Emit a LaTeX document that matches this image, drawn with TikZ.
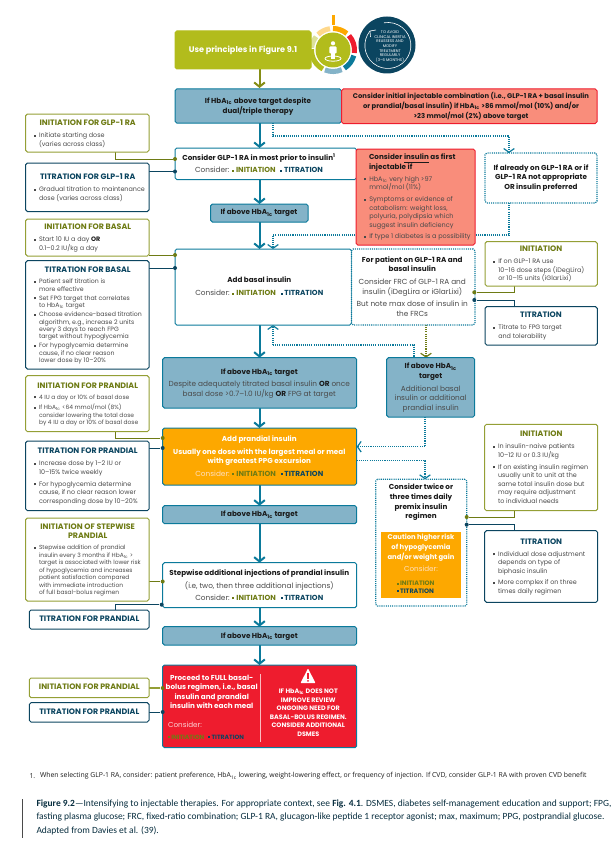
\documentclass[tikz,border=0pt]{standalone}
\usepackage{fontspec}
\setmainfont{Poppins}
\newfontfamily\capfont{Carlito}
\newfontfamily\notefont{Open Sans}
\usetikzlibrary{arrows.meta,calc}
\definecolor{bluefill}{HTML}{84B3C8}
\definecolor{teal}{HTML}{0B7A9B}
\definecolor{navy}{HTML}{0B4560}
\definecolor{olivetx}{HTML}{6E7B14}
\definecolor{olivebd}{HTML}{949F35}
\definecolor{limefill}{HTML}{B2BC1C}
\definecolor{salmon}{HTML}{F98D7B}
\definecolor{redbd}{HTML}{EE1C2E}
\definecolor{orangefill}{HTML}{FDA800}
\definecolor{bodytx}{HTML}{4A4A4A}
\definecolor{blacktx}{HTML}{1A1A1A}
\pgfdeclarelayer{bg}
\pgfsetlayers{bg,main}
\newcommand\fs[2]{\fontsize{#1pt}{#2pt}\selectfont}
\newcommand\hba{HbA\textsubscript{1c}}
\newcommand\bul{\makebox[0pt][r]{\raisebox{.6pt}{\rule{1.5pt}{1.5pt}}\hspace{2.6pt}}}
\newcommand\sq[1]{{\color{#1}\raisebox{.8pt}{\rule{1.5pt}{1.5pt}}}}
\newcommand\consl[3]{{\color{#1}Consider:} \sq{#2} {\bfseries\color{#2}INITIATION}\hspace{2pt} \sq{#3} {\bfseries\color{#3}TITRATION}}
% box: name, style, x1, y1, x2, y2
\newcommand\bx[6]{\node[#2,minimum width={(#5-(#3))*0.75pt},minimum height={(#6-(#4))*0.75pt}] (#1) at ({(#3+#5)/2},{(#4+#6)/2}) {};}
% text block: name, x, y of first line centre, style, text
\newcommand\tb[5]{\node[tx,#4] (#1) at (#2,{#3-4}) {\rule{0pt}{4.4pt}#5};}
\tikzset{
 x=0.75pt,y=-0.75pt,
 bbase/.style={inner sep=0,outer sep=0,rounded corners=1.3pt,line width=.75pt},
 bluebox/.style={bbase,draw=teal,fill=bluefill},
 whitebox/.style={bbase,draw=teal,fill=white},
 salmonbox/.style={bbase,draw=redbd,fill=salmon},
 orangebox/.style={bbase,draw=teal,fill=orangefill},
 limebox/.style={bbase,draw=limefill,fill=limefill},
 fullred/.style={bbase,draw=teal,fill=redbd},
 olivebox/.style={bbase,draw=olivebd,fill=white},
 navybox/.style={bbase,draw=navy,fill=white},
 dotbox/.style={bbase,draw=teal,fill=white,dash pattern=on .8pt off .8pt,line width=.85pt},
 tx/.style={inner sep=0,outer sep=0},
 tl/.style={anchor=north west,align=left},
 tc/.style={anchor=north,align=center},
 head/.style={tl,font=\fs{5.4}{7}\bfseries,text=blacktx},
 boldc/.style={tc,font=\fs{5.4}{7.2}\bfseries,text=blacktx},
 redc/.style={tc,font=\fs{5.1}{7.2}\bfseries,text=blacktx},
 plainc/.style={tc,font=\fs{5.5}{7.2},text=bodytx},
 whitec/.style={tc,font=\fs{5.4}{7.2}\bfseries,text=white},
 ctitle/.style={tc,font=\fs{5.9}{7.2}\bfseries},
 ol/.style={ctitle,text=olivetx},
 nv/.style={ctitle,text=navy},
 bodyA/.style={tl,font=\fs{4.8}{6.35},text=bodytx},
 bodyB/.style={tl,font=\fs{4.65}{5.6},text=bodytx},
 bodyC/.style={tl,font=\fs{4.45}{5.6},text=bodytx},
 flow/.style={draw=teal,line width=1.5pt,-{Straight Barb[length=3.2pt,width=8pt,line width=1.5pt]}},
 flowol/.style={draw=limefill!75!black,line width=1.5pt,-{Straight Barb[length=3.2pt,width=8pt,line width=1.5pt]}},
 dotflow/.style={draw=teal,line width=.85pt,dash pattern=on .8pt off .8pt,-{Straight Barb[length=2.8pt,width=8pt,line width=.9pt]}},
 dotol/.style={draw=olivetx,line width=.85pt,dash pattern=on .8pt off .8pt,-{Straight Barb[length=2.8pt,width=8pt,line width=.9pt]}},
 dotline/.style={draw=teal,line width=.85pt,dash pattern=on .8pt off .8pt},
 connol/.style={draw=olivetx,line width=.75pt},
 connnv/.style={draw=navy,line width=.75pt},
 jol/.style={circle,fill=olivetx,inner sep=0,minimum size=3pt},
 jnv/.style={circle,fill=navy,inner sep=0,minimum size=3pt},
}
\begin{document}
\begin{tikzpicture}
\useasboundingbox (0,0) rectangle (616,842);
% ---- icon ----
\begin{scope}[line width=3.8pt]
 \foreach \c/\a/\b in {limefill/118/182,limefill!45/186/218,orangefill!45/226/262,orangefill/270/310,redbd/318/368,teal/375/418,bluefill/426/472}{
  \draw[\c] (333,50) ++(\a:21.5) arc[start angle=\a,end angle=\b,radius=21.5];
 }
 \draw[orangefill,line width=2.6pt] (333.5,15) -- (333.5,25);
\end{scope}
\fill[limefill] (333,50) circle[radius=17.5];
\fill[white] (333,43.3) circle[radius=2.1];
\fill[white,rounded corners=.8pt] (329.4,46.4) rectangle (336.6,53.5);
\fill[white] (330.8,53) rectangle (335.2,59);
\draw[white,line width=.6pt] (333,58.6) ellipse[x radius=8,y radius=2.6];
\fill[navy] (387,45) circle[radius=28.5];
\draw[white,line width=.45pt] (370,31) arc[start angle=219,end angle=-100,radius=23];
\draw[white,line width=.45pt] (370,31) -- (376,30);
\draw[white,line width=.45pt] (370,31) -- (370.5,37);
\node[tx,tc,font=\fs{2.9}{3.45},text=white] (inert) at (390,31) {TO AVOID\\CLINICAL INERTIA\\REASSESS AND\\MODIFY\\TREATMENT\\REGULARLY\\(3--6 MONTHS)};
% ---- boxes ----
\bx{use}{limebox}{175}{31}{311}{69}
\bx{dual}{bluebox}{175}{89}{341.5}{123}
\bx{init}{salmonbox}{341.5}{89}{597}{123.5}
\bx{glp}{whitebox}{175}{148}{356.5}{179.5}
\bx{insul}{salmonbox}{356}{149}{475}{245}
\bx{already}{dotbox}{485}{153}{597}{203}
\bx{t1}{bluebox}{210.7}{204}{308}{222}
\bx{basal}{whitebox}{175}{249}{351.5}{325}
\bx{frc}{dotbox}{351.5}{249}{475}{325}
\bx{t2}{bluebox}{162.7}{357.7}{356.7}{408}
\bx{t2r}{bluebox}{386.7}{357.7}{474.7}{417}
\bx{pran}{orangebox}{162.7}{428}{356.7}{485}
\bx{t3}{bluebox}{162.7}{505.7}{356.7}{523.7}
\bx{step}{whitebox}{162.7}{562.7}{356.7}{607.7}
\bx{t4}{bluebox}{162.7}{626.7}{356.7}{645}
\bx{full}{fullred}{162.7}{665}{356.7}{747.7}
\bx{premix}{dotbox}{375.7}{479.3}{466.7}{606}
\node[inner sep=0,fill=orangefill,minimum width=60pt,minimum height=49.3pt] (caut) at (421,564.8) {};
\bx{ig}{olivebox}{25.7}{114}{149}{152}
\bx{tg}{navybox}{25.7}{163}{149}{211.6}
\bx{ib}{olivebox}{25.7}{219}{149}{256}
\bx{tb}{navybox}{25.7}{260.7}{149}{369}
\bx{ip}{olivebox}{25.7}{375.7}{149}{431.7}
\bx{tp}{navybox}{25.7}{441}{149}{510.7}
\bx{is}{olivebox}{25.7}{518}{149}{601}
\bx{tps}{navybox}{29.3}{610}{149}{629}
\bx{ipf}{olivebox}{29.3}{678}{149}{697.7}
\bx{tpf}{navybox}{29.3}{702.7}{149}{722}
\bx{ir1}{olivebox}{485}{241.7}{597.3}{286}
\bx{tr1}{navybox}{485}{306.7}{597.3}{345}
\bx{ir2}{olivebox}{484.7}{424.3}{597.7}{510.7}
\bx{tr2}{navybox}{484.7}{530.7}{597.7}{602.3}
% ---- junction dots ----
\node[jol] (d1) at (175,159) {};
\node[jnv] (d2) at (175,171.5) {};
\node[jol] (d3) at (175,255) {};
\node[jnv] (d4) at (175,268) {};
\node[jol] (d5) at (162.7,438) {};
\node[jnv] (d6) at (162.7,448) {};
\node[jol] (d7) at (162.7,581.5) {};
\node[jnv] (d8) at (161.7,604.7) {};
\node[jol] (d9) at (162.7,688) {};
\node[jnv] (d10) at (162.7,712) {};
\node[jol] (d11) at (474.3,292.3) {};
\node[jnv] (d12) at (474.3,300) {};
\node[jol] (d13) at (466.7,517) {};
\node[jnv] (d14) at (466.7,524.7) {};
% ---- connectors (behind boxes) ----
\coordinate (trunk) at (259.5,0);
\coordinate (xg) at (115,0);
\coordinate (xr) at (514,0);
\coordinate (xd) at (273,0);
\coordinate (xa) at (509,0);
\coordinate (xo) at (426,0);
\coordinate (xp) at (425,0);
\coordinate (y1) at (0,136);
\coordinate (y2) at (0,235);
\coordinate (y3) at (0,345);
\coordinate (y4) at (0,446.7);
\coordinate (y5) at (0,460.7);
\coordinate (xt) at (414,0);
\begin{pgfonlayer}{bg}
 \draw[flowol] (use.south -| trunk) -- ($(dual.north -| trunk)+(0,-1)$);
 \draw[flow] (dual.south -| trunk) -- (glp.north -| trunk);
 \draw[flow] (glp.south -| trunk) -- (t1.north -| trunk);
 \draw[flow] (t1.south -| trunk) -- (basal.north -| trunk);
 \draw[flow] (basal.south -| trunk) -- (t2.north -| trunk);
 \draw[flow] (t2.south -| trunk) -- (pran.north -| trunk);
 \draw[flow] (pran.south -| trunk) -- (t3.north -| trunk);
 \draw[flow] (t3.south -| trunk) -- (step.north -| trunk);
 \draw[flow] (step.south -| trunk) -- (t4.north -| trunk);
 \draw[flow] (t4.south -| trunk) -- (full.north -| trunk);
 \draw[dotflow] (dual.south -| xd) -- (xd |- y1) -- (xa |- y1) -- (already.north -| xa);
 \draw[dotflow] (already.south -| xa) -- (xa |- y2) -- (xd |- y2) -- (basal.north -| xd);
 \draw[dotflow] (xd |- y3) -- (basal.south -| xd);
 \draw[dotline] (xd |- y3) -- (xt |- y3) -- (t2r.north -| xt);
 \draw[dotol] (frc.south -| xo) -- (t2r.north -| xo);
 \draw[dotflow] (t2r.south -| xp) -- (xp |- y4) -- (pran.east |- y4);
 \draw[dotflow] (pran.east |- y5) -- (xp |- y5) -- (premix.north -| xp);
 \draw[connol] ($(ig.south -| xg)$) |- (d1);
 \draw[connnv] (tg.east |- d2) -- (d2);
 \draw[connol] (ib.east |- d3) -- (d3);
 \draw[connnv] (tb.east |- d4) -- (d4);
 \draw[connol] (ip.south -| xg) |- (d5);
 \draw[connnv] (tp.east |- d6) -- (d6);
 \draw[connol] (is.east |- d7) -- (d7);
 \draw[connnv] (tps.north -| xg) |- (d8);
 \draw[draw=olivebd,line width=1pt] (ipf.east |- d9) -- (d9);
 \draw[connnv] (tpf.east |- d10) -- (d10);
 \draw[connol] (ir1.south -| xr) |- (d11);
 \draw[connnv] (tr1.north -| xr) |- (d12);
 \draw[connol] (ir2.south -| xr) |- (d13);
 \draw[connnv] (tr2.north -| xr) |- (d14);
\end{pgfonlayer}
% ---- main texts ----
\tb{tuse}{243}{50}{tc,font=\fs{6.1}{7}\bfseries,text=white}{Use principles in Figure 9.1}
\tb{tdual}{258}{101.7}{boldc}{If \hba{} above target despite\\dual/triple therapy}
\tb{tinit}{471}{96.7}{redc}{Consider initial injectable combination (i.e., GLP-1 RA + basal insulin\\or prandial/basal insulin) if \hba{} >86 mmol/mol (10\%) and/or\\>23 mmol/mol (2\%) above target}
\tb{tglp}{259}{158.3}{boldc}{Consider GLP-1 RA in most prior to insulin\textsuperscript{1}}
\tb{tglpc}{259}{171}{plainc}{\consl{bodytx}{olivetx}{navy}}
\tb{tt1}{259}{213}{boldc}{If above \hba{} target}
\tb{tinsh}{369}{158}{head}{Consider \underline{insulin} as first\\injectable if}
\tb{tinsb1}{369.3}{179.3}{tl,font=\fs{4.9}{6.5},text=bodytx}{\bul\hba{} very high >97\\mmol/mol (11\%)}
\tb{tinsb2}{369.3}{199.7}{tl,font=\fs{4.9}{6.4},text=bodytx}{\bul Symptoms or evidence of\\catabolism: weight loss,\\polyuria, polydipsia which\\suggest insulin deficiency}
\tb{tinsb3}{369.3}{237}{tl,font=\fs{4.9}{6.4},text=bodytx}{\bul If type 1 diabetes is a possibility}
\tb{tal}{541}{168.3}{boldc}{If already on GLP-1 RA or if\\GLP-1 RA not appropriate\\OR insulin preferred}
\tb{tbas}{259.3}{281}{boldc}{Add basal insulin}
\tb{tbasc}{259.3}{293.7}{plainc}{\consl{bodytx}{olivetx}{navy}}
\tb{tfrc1}{412.3}{260.3}{boldc}{For patient on GLP-1 RA and\\basal insulin}
\tb{tfrc2}{412.3}{282.7}{plainc}{Consider FRC of GLP-1 RA and\\insulin (iDegLira or iGlarLixi)}
\tb{tfrc3}{412.3}{305}{plainc}{But note max dose of insulin in\\the FRCs}
\tb{tt2a}{259.3}{372.3}{boldc}{If above \hba{} target}
\tb{tt2b}{259.3}{385}{plainc}{Despite adequately titrated basal insulin {\bfseries\color{blacktx}OR} once\\basal dose >0.7--1.0 IU/kg {\bfseries\color{blacktx}OR} FPG at target}
\tb{tt2ra}{430.7}{367}{boldc}{If above \hba{}\\target}
\tb{tt2rb}{430.7}{389.3}{plainc}{Additional basal\\insulin or additional\\prandial insulin}
\tb{tpr1}{259.3}{439.7}{whitec}{Add prandial insulin}
\tb{tpr2}{259.3}{452.3}{whitec}{Usually one dose with the largest meal or meal\\with greatest PPG excursion}
\tb{tpr3}{259.3}{474.3}{plainc}{\consl{orange!25}{olivetx}{navy}}
\tb{tt3}{259.3}{515}{boldc}{If above \hba{} target}
\tb{tst1}{259.3}{573.3}{boldc}{Stepwise additional injections of prandial insulin}
\tb{tst2}{259.3}{585.7}{plainc}{(i.e, two, then three additional injections)}
\tb{tst3}{259.3}{598.3}{plainc}{\consl{bodytx}{olivetx}{navy}}
\tb{tt4}{259.3}{636.7}{boldc}{If above \hba{} target}
\tb{tfu1}{211.7}{678.3}{whitec}{Proceed to FULL basal-\\bolus regimen, i.e., basal\\insulin and prandial\\insulin with each meal}
\tb{tfu2}{168}{726}{tl,font=\fs{5.4}{7},text=white!80!redbd}{Consider:}
\tb{tfu3}{168}{737.3}{tl,font=\fs{4.6}{6}\bfseries}{\sq{olivetx} {\color{olivetx}INITIATION}\hspace{2pt} \sq{navy} {\color{navy}TITRATION}}
\draw[white!70!redbd,line width=.9pt] (260.7,674) -- (260.7,741.7);
\fill[white,rounded corners=.5pt] (308,668.5) -- (315.5,683) -- (300.5,683) -- cycle;
\fill[redbd] (307.2,673) rectangle (308.8,679);
\fill[redbd] (308,680.8) circle[radius=1];
\tb{tfu4}{308.3}{691.7}{tc,font=\fs{4.8}{6.45}\bfseries,text=white}{IF \hba{} DOES NOT\\IMPROVE REVIEW\\ONGOING NEED FOR\\BASAL-BOLUS REGIMEN.\\CONSIDER ADDITIONAL\\DSMES}
\tb{tpm}{421}{488}{boldc}{Consider twice or\\three times daily\\premix insulin\\regimen}
\tb{tcau}{421}{538}{tc,font=\fs{5.1}{7.2}\bfseries,text=white}{Caution higher risk\\of hypoglycemia\\and/or weight gain}
\tb{tcau2}{421}{570}{tc,font=\fs{5.4}{7},text=orange!25}{Consider:}
\tb{tcau3}{396.7}{583.7}{tl,font=\fs{4.8}{5.8}\bfseries}{\sq{olivetx} {\color{olivetx}INITIATION}\\\sq{navy} {\color{navy}TITRATION}}
% ---- side boxes ----
\tb{a1}{87.7}{123.3}{ol}{INITIATION FOR GLP-1 RA}
\tb{a2}{39}{135.7}{bodyA}{\bul Initiate starting dose\\(varies across class)}
\tb{b1}{87.7}{177.7}{nv}{TITRATION FOR GLP-1 RA}
\tb{b2}{39}{189.7}{bodyA}{\bul Gradual titration to maintenance\\dose (varies across class)}
\tb{c1}{87.7}{228}{ol}{INITIATION FOR BASAL}
\tb{c2}{39}{240}{bodyA}{\bul Start 10 IU a day {\bfseries\color{blacktx}OR}\\0.1--0.2 IU/kg a day}
\tb{e1}{87.7}{270.7}{nv}{TITRATION FOR BASAL}
\tb{e2}{39}{281.7}{bodyB}{\bul Patient self titration is\\more effective}
\tb{e3}{39}{298.3}{bodyB}{\bul Set FPG target that correlates\\to \hba{} target}
\tb{e4}{39}{314.7}{bodyB}{\bul Choose evidence-based titration\\algorithm, e.g., increase 2 units\\every 3 days to reach FPG\\target without hypoglycemia}
\tb{e5}{39}{346}{bodyB}{\bul For hypoglycemia determine\\cause, if no clear reason\\lower dose by 10--20\%}
\tb{f1}{87.7}{386.3}{ol}{INITIATION FOR PRANDIAL}
\tb{f2}{39}{397.3}{bodyC}{\bul 4 IU a day or 10\% of basal dose}
\tb{f3}{39}{407.7}{bodyC}{\bul If \hba{} <64 mmol/mol (8\%)\\consider lowering the total dose\\by 4 IU a day or 10\% of basal dose}
\tb{g1}{87.7}{452}{nv}{TITRATION FOR PRANDIAL}
\tb{g2}{39}{464}{bodyA}{\bul Increase dose by 1--2 IU or\\10--15\% twice weekly}
\tb{g3}{39}{484.3}{bodyA}{\bul For hypoglycemia determine\\cause, if no clear reason lower\\corresponding dose by 10--20\%}
\tb{h1}{87.7}{527.3}{ol}{INITIATION OF STEPWISE\\PRANDIAL}
\tb{h2}{39}{548}{bodyC}{\bul Stepwise addition of prandial\\insulin every 3 months if \hba{} >\\target is associated with lower risk\\of hypoglycemia and increases\\patient satisfaction compared\\with immediate introduction\\of full basal-bolus regimen}
\tb{i1}{89.3}{620}{nv}{TITRATION FOR PRANDIAL}
\tb{j1}{89.3}{688}{ol}{INITIATION FOR PRANDIAL}
\tb{k1}{89.3}{712.7}{nv}{TITRATION FOR PRANDIAL}
\tb{l1}{541}{249.7}{ol}{INITIATION}
\tb{l2}{498.3}{261.7}{bodyA}{\bul If on GLP-1 RA use\\10--16 dose steps (iDegLira)\\or 10--15 units (iGlarLixi)}
\tb{m1}{541}{316}{nv}{TITRATION}
\tb{m2}{498.3}{328}{bodyA}{\bul Titrate to FPG target\\and tolerability}
\tb{n1}{541.3}{435}{ol}{INITIATION}
\tb{n2}{498}{447}{bodyA}{\bul In insulin-naive patients\\10--12 IU or 0.3 IU/kg}
\tb{n3}{498}{467.3}{bodyA}{\bul If on existing insulin regimen\\usually unit to unit at the\\same total insulin dose but\\may require adjustment\\to individual needs}
\tb{o1}{541.3}{542.3}{nv}{TITRATION}
\tb{o2}{498}{554.3}{bodyA}{\bul Individual dose adjustment\\depends on type of\\biphasic insulin}
\tb{o3}{498}{583}{bodyA}{\bul More complex if on three\\times daily regimen}
% ---- foot ----
\node[tx,anchor=west,font=\notefont\fs{5.15}{6},text=blacktx] (fn1) at (29.5,776) {1.};
\node[tx,anchor=west,font=\notefont\fs{5.15}{6},text=blacktx] (fn2) at (40,776) {When selecting GLP-1 RA, consider: patient preference, \hba{} lowering, weight-lowering effect, or frequency of injection. If CVD, consider GLP-1 RA with proven CVD benefit};
\draw[bodytx,line width=.6pt] (22,799) -- (22,838);
\node[tx,anchor=north west,align=left,font=\capfont\fs{7.1}{10},text=navy!65!black] (cap) at (36.5,800) {{\bfseries Figure 9.2}—Intensifying to injectable therapies. For appropriate context, see {\bfseries Fig. 4.1}. DSMES, diabetes self-management education and support; FPG,\\fasting plasma glucose; FRC, fixed-ratio combination; GLP-1 RA, glucagon-like peptide 1 receptor agonist; max, maximum; PPG, postprandial glucose.\\Adapted from Davies et al. (39).};
\end{tikzpicture}
\end{document}
